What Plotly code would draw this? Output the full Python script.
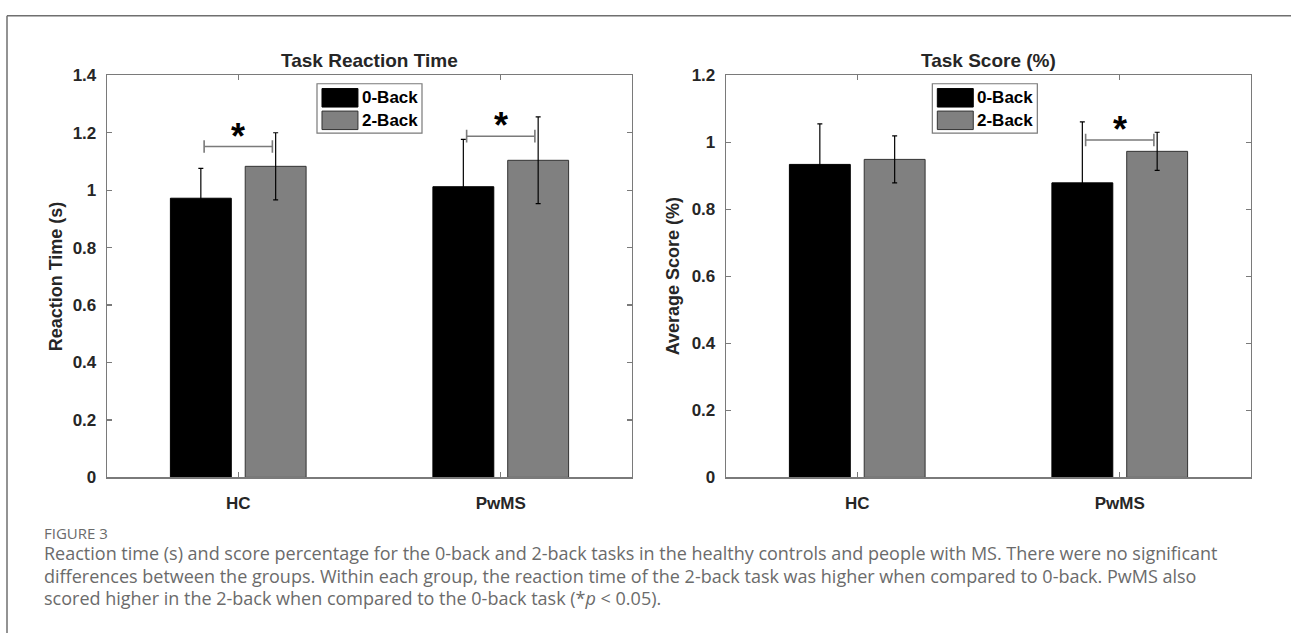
import plotly.graph_objects as go

# ---------------- data ----------------
groups = ["HC", "PwMS"]
series_names = ["0-Back", "2-Back"]

rt_0back = [0.972, 1.012]
rt_0back_err = [0.104, 0.165]
rt_2back = [1.083, 1.104]
rt_2back_err = [0.117, 0.151]

score_0back = [0.934, 0.879]
score_0back_err = [0.121, 0.182]
score_2back = [0.949, 0.973]
score_2back_err = [0.070, 0.057]

# significance bracket heights per group (None = no bracket)
rt_sig = [1.152, 1.188]
score_sig = [None, 1.007]

rt_ticks = [0, 0.2, 0.4, 0.6, 0.8, 1.0, 1.2, 1.4]
score_ticks = [0, 0.2, 0.4, 0.6, 0.8, 1.0, 1.2]

caption_head = "FIGURE 3"
caption_lines = [
    "Reaction time (s) and score percentage for the 0-back and 2-back tasks in the healthy controls and people with MS. There were no significant",
    "differences between the groups. Within each group, the reaction time of the 2-back task was higher when compared to 0-back. PwMS also",
    "scored higher in the 2-back when compared to the 0-back task (*<i>p</i> &lt; 0.05).",
]

# ---------------- layout geometry ----------------
W, H = 1291, 643
def px_x(p):
    return p / W
def px_y(p):
    return 1 - p / H

ax_top, ax_bot = 68.3, 482.7
left_dom = [px_x(107), px_x(632)]
right_dom = [px_x(726), px_x(1251)]
ydom = [px_y(ax_bot), px_y(ax_top)]

FONT = "Liberation Sans, Arial, sans-serif"
AXCOL = "#7a7a7a"
TXT = "#262626"
colors = ["#000000", "#808080"]
edges = ["#000000", "#333333"]

fig = go.Figure()

def add_bars(xa, ya, vals, errs):
    for i, (v, e) in enumerate(zip(vals, errs)):
        fig.add_trace(go.Bar(
            x=groups, y=v, name=series_names[i], xaxis=xa, yaxis=ya,
            offsetgroup=str(i), showlegend=False, hoverinfo="skip",
            marker=dict(color=colors[i], line=dict(color=edges[i], width=1)),
            error_y=dict(type="data", array=e, visible=True, color="black",
                         thickness=1.2, width=2.5),
        ))

add_bars("x", "y", [rt_0back, rt_2back], [rt_0back_err, rt_2back_err])
add_bars("x2", "y2", [score_0back, score_2back], [score_0back_err, score_2back_err])

axis_common = dict(
    showline=True, linecolor=AXCOL, linewidth=1.3, mirror="ticks",
    ticks="inside", ticklen=5, tickwidth=1.3, tickcolor=AXCOL,
    showgrid=False, zeroline=False, fixedrange=True,
    tickfont=dict(family=FONT, size=17, color=TXT, weight="bold"),
)

fig.update_layout(
    width=W, height=H, margin=dict(l=0, r=0, t=0, b=0),
    paper_bgcolor="white", plot_bgcolor="white",
    barmode="group", bargap=0.43, bargroupgap=0.186,
    showlegend=False,
    xaxis=dict(domain=left_dom, anchor="y", type="category", range=[-0.5, 1.5],
               ticklabelstandoff=10, **axis_common),
    yaxis=dict(domain=ydom, anchor="x", range=[0, 1.4], tickvals=rt_ticks,
               ticklabelstandoff=6, **axis_common),
    xaxis2=dict(domain=right_dom, anchor="y2", type="category", range=[-0.5, 1.5],
                ticklabelstandoff=10, **axis_common),
    yaxis2=dict(domain=ydom, anchor="x2", range=[0, 1.2], tickvals=score_ticks,
                ticklabelstandoff=6, **axis_common),
)

shapes = []
annotations = []

# significance brackets
def add_sig(xr, yr, levels, yrange):
    ppu = (ax_bot - ax_top) / yrange  # pixels per unit
    cap = 6.5 / ppu
    for gi, lvl in enumerate(levels):
        if lvl is None:
            continue
        x0, x1 = gi - 0.13, gi + 0.13
        ln = dict(color="#7a7a7a", width=1.6)
        shapes.append(dict(type="line", xref=xr, yref=yr, x0=x0, x1=x1, y0=lvl, y1=lvl, line=ln))
        shapes.append(dict(type="line", xref=xr, yref=yr, x0=x0, x1=x0, y0=lvl - cap, y1=lvl + cap, line=ln))
        shapes.append(dict(type="line", xref=xr, yref=yr, x0=x1, x1=x1, y0=lvl - cap, y1=lvl + cap, line=ln))
        annotations.append(dict(text="*", xref=xr, yref=yr, x=gi, y=lvl, xanchor="center",
                                yanchor="bottom", yshift=-12, showarrow=False,
                                font=dict(family=FONT, size=36, color="black", weight="bold")))

add_sig("x", "y", rt_sig, 1.4)
add_sig("x2", "y2", score_sig, 1.2)

# manual legends (boxes with large swatches)
def add_legend(xr, yr, x0):
    box_w = 0.2
    shapes.append(dict(type="rect", xref=xr, yref=yr, x0=x0, x1=x0 + box_w, y0=0.856, y1=0.979,
                       line=dict(color="#7a7a7a", width=1.2), fillcolor="white", layer="above"))
    rows = [(0.921, 0.967), (0.865, 0.911)]
    for i, (ya, yb) in enumerate(rows):
        shapes.append(dict(type="rect", xref=xr, yref=yr, x0=x0 + 0.0095, x1=x0 + 0.078,
                           y0=ya, y1=yb, fillcolor=colors[i],
                           line=dict(color=edges[i], width=1), layer="above"))
        annotations.append(dict(text=series_names[i], xref=xr, yref=yr, x=x0 + 0.081,
                                y=(ya + yb) / 2, xanchor="left", yanchor="middle",
                                showarrow=False,
                                font=dict(family=FONT, size=17, color="black", weight="bold")))

add_legend("x domain", "y domain", 0.40)
add_legend("x2 domain", "y2 domain", 0.393)

# titles
for xr, t in [("x domain", "Task Reaction Time"), ("x2 domain", "Task Score (%)")]:
    annotations.append(dict(text=t, xref=xr, yref="paper", x=0.5, y=px_y(53),
                            xanchor="center", yanchor="middle", showarrow=False,
                            font=dict(family=FONT, size=19, color=TXT, weight="bold")))

# y-axis titles
for xp, t in [(56, "Reaction Time (s)"), (673, "Average Score (%)")]:
    annotations.append(dict(text=t, xref="paper", yref="paper", x=px_x(xp),
                            y=(ydom[0] + ydom[1]) / 2, xanchor="center", yanchor="middle",
                            textangle=-90, showarrow=False,
                            font=dict(family=FONT, size=18, color=TXT, weight="bold")))

# caption
CAPFONT = "Open Sans, Lato, sans-serif"
annotations.append(dict(text=caption_head, xref="paper", yref="paper", x=px_x(42), y=px_y(540),
                        xanchor="left", yanchor="middle", showarrow=False,
                        font=dict(family=CAPFONT, size=15, color="#6b6b6b")))
for i, line in enumerate(caption_lines):
    annotations.append(dict(text=line, xref="paper", yref="paper", x=px_x(42),
                            y=px_y(561 + 23 * i), xanchor="left", yanchor="middle",
                            showarrow=False,
                            font=dict(family=CAPFONT, size=18, color="#6b6b6b")))

# outer frame (top and left edges)
frame = dict(color="#6f6f6f", width=1.5)
shapes.append(dict(type="line", xref="paper", yref="paper", x0=px_x(7), x1=1, y0=px_y(7), y1=px_y(7), line=frame))
shapes.append(dict(type="line", xref="paper", yref="paper", x0=px_x(7), x1=px_x(7), y0=px_y(7), y1=0, line=frame))

fig.update_layout(shapes=shapes, annotations=annotations)
fig.write_html("out.html",
               config={"displayModeBar": False, "staticPlot": True},
               post_script="document.body.style.margin='0';document.body.style.overflow='hidden';")
